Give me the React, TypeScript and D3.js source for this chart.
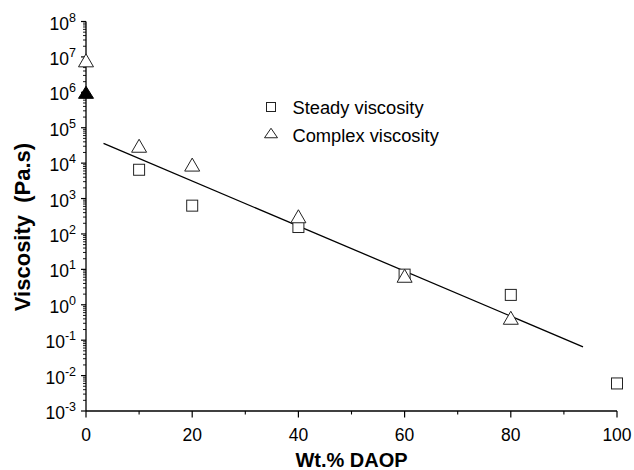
import React from "react";
import * as d3 from "d3";

// Wt.% DAOP and measured viscosities (Pa.s)
const steadyX = [10, 20, 40, 60, 80, 100];
const steadyY = [6500, 630, 157, 7.1, 1.9, 0.006];
const complexX = [0, 10, 20, 40, 60, 80];
const complexY = [8e6, 3.1e4, 9100, 316, 6.6, 0.43];
const pureX = [0];
const pureY = [1e6];
// Regression line endpoints
const fitX = [3.3, 93.6];
const fitY = [3.6e4, 0.065];

const xTicks = [0, 20, 40, 60, 80, 100];
const xMinorTicks = [10, 30, 50, 70, 90];
const yExponents = [8, 7, 6, 5, 4, 3, 2, 1, 0, -1, -2, -3];

const legendLabels = ["Steady viscosity", "Complex viscosity"];

const W = 634;
const H = 470;
const FONT = "'Liberation Sans', Arial, sans-serif";

const x = d3.scaleLinear().domain([0, 100]).range([86, 617]);
const y = d3.scaleLog().domain([1e-3, 1e8]).range([411, 21.5]);

function trianglePath(cx: number, cy: number, w: number, h: number) {
  return `M${cx},${cy - h / 2}L${cx + w / 2},${cy + h / 2}L${cx - w / 2},${cy + h / 2}Z`;
}

export default function App() {
  const minorY: number[] = [];
  for (let e = -3; e < 8; e++) {
    for (let m = 2; m <= 9; m++) minorY.push(m * Math.pow(10, e));
  }
  const line = d3
    .line<number>()
    .x((_, i) => x(fitX[i]))
    .y((d) => y(d));

  return (
    <svg width={W} height={H} style={{ position: "absolute", left: 0, top: 0 }}>
      <rect width={W} height={H} fill="#fff" />
      {/* axes */}
      <line x1={x(0)} x2={x(0)} y1={y(1e8)} y2={y(1e-3)} stroke="#000" strokeWidth={1.3} />
      <line x1={x(0)} x2={x(100)} y1={y(1e-3)} y2={y(1e-3)} stroke="#000" strokeWidth={1.3} />
      {minorY.map((v, i) => (
        <line key={"my" + i} x1={x(0) - 3} x2={x(0)} y1={y(v)} y2={y(v)} stroke="#000" strokeWidth={0.9} />
      ))}
      {yExponents.map((e) => {
        const ty = y(Math.pow(10, e));
        return (
          <g key={"y" + e}>
            <line x1={x(0) - 5} x2={x(0)} y1={ty} y2={ty} stroke="#000" strokeWidth={1.2} />
            <text x={76} y={ty + 8} textAnchor="end" fontFamily={FONT} fontSize={17.5} fill="#000">
              10
              <tspan dy={-8} fontSize={12.5}>{e}</tspan>
            </text>
          </g>
        );
      })}
      {xMinorTicks.map((v) => (
        <line key={"mx" + v} x1={x(v)} x2={x(v)} y1={y(1e-3)} y2={y(1e-3) + 3.5} stroke="#000" strokeWidth={1.1} />
      ))}
      {xTicks.map((v) => (
        <g key={"x" + v}>
          <line x1={x(v)} x2={x(v)} y1={y(1e-3)} y2={y(1e-3) + 6.5} stroke="#000" strokeWidth={1.2} />
          <text x={x(v)} y={441} textAnchor="middle" fontFamily={FONT} fontSize={17.5} fill="#000">
            {v}
          </text>
        </g>
      ))}
      {/* axis titles */}
      <text x={351.5} y={467} textAnchor="middle" fontFamily={FONT} fontSize={20} fontWeight="bold" fill="#000">
        Wt.% DAOP
      </text>
      <text
        transform="translate(29.5,227) rotate(-90)"
        textAnchor="middle"
        fontFamily={FONT}
        fontSize={22}
        fontWeight="bold"
        fill="#000"
        style={{ whiteSpace: "pre" }}
      >
        {"Viscosity  (Pa.s)"}
      </text>
      {/* fit line */}
      <path d={line(fitY) ?? ""} fill="none" stroke="#000" strokeWidth={1.3} />
      {/* steady viscosity */}
      {steadyX.map((v, i) => (
        <rect
          key={"s" + i}
          x={x(v) - 5.5}
          y={y(steadyY[i]) - 5.5}
          width={11}
          height={11}
          fill="#fff"
          stroke="#222"
          strokeWidth={1}
        />
      ))}
      {/* complex viscosity */}
      {complexX.map((v, i) => (
        <path key={"c" + i} d={trianglePath(x(v), y(complexY[i]), 15, 13)} fill="#fff" stroke="#222" strokeWidth={1} />
      ))}
      {pureX.map((v, i) => (
        <path key={"p" + i} d={trianglePath(x(v), y(pureY[i]), 15, 12)} fill="#000" stroke="#000" strokeWidth={1} />
      ))}
      {/* legend */}
      <rect x={266.5} y={102.5} width={9} height={9} fill="#fff" stroke="#222" strokeWidth={1} />
      <text x={292.5} y={114} fontFamily={FONT} fontSize={18.3} fill="#000">
        {legendLabels[0]}
      </text>
      <path d={trianglePath(271, 133, 13, 9.5)} fill="#fff" stroke="#222" strokeWidth={1} />
      <text x={292.5} y={141.5} fontFamily={FONT} fontSize={18.3} fill="#000">
        {legendLabels[1]}
      </text>
    </svg>
  );
}
